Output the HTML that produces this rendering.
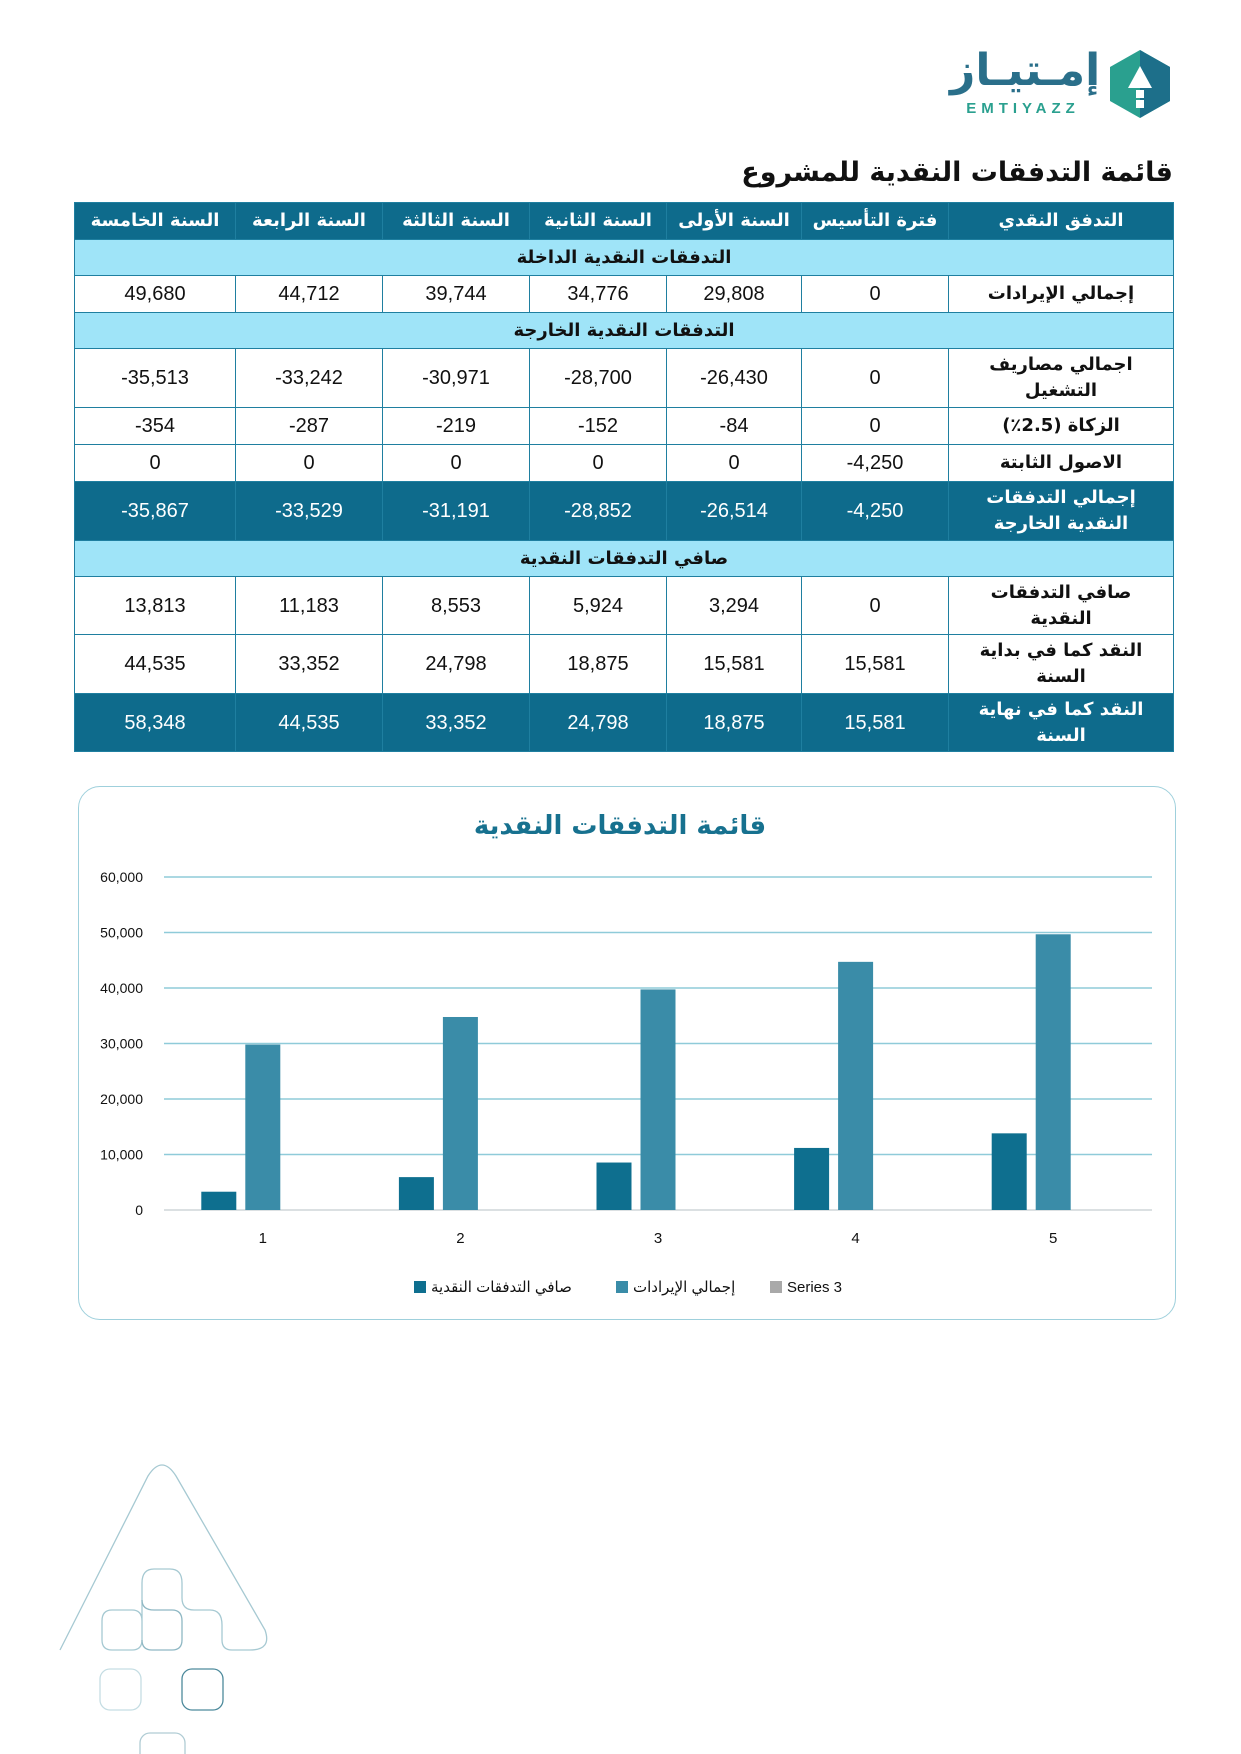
<!DOCTYPE html>
<html lang="ar"><head><meta charset="utf-8">
<style>
*{margin:0;padding:0;box-sizing:border-box}
body{width:1241px;height:1754px;background:#fff;position:relative;overflow:hidden;font-family:"DejaVu Sans","Liberation Sans",sans-serif}
.abs{position:absolute}
table{position:absolute;left:74px;top:202px;width:1099px;border-collapse:collapse;direction:rtl;table-layout:fixed}
td,th{border:1.5px solid #1f7fa0;text-align:center;font-size:18px;color:#111;padding:0 4px;line-height:26px}
th{background:#0e6b8c;color:#fff;font-weight:bold;height:37px}
.sec td{background:#9fe4f8;font-weight:bold;height:36px}
.num{font-family:"Liberation Sans",sans-serif;font-size:20px;direction:ltr;unicode-bidi:isolate}
.lab{font-weight:bold;font-size:18px}
.dark td{background:#0e6b8c;color:#fff}
</style></head><body>
<svg class="abs" style="left:1108px;top:48px" width="64" height="72">
<polygon points="32,2 62,19 62,53 32,70 2,53 2,19" fill="#2aa08f"/>
<polygon points="32,2 62,19 62,53 32,70" fill="#1d6f8a"/>
<polygon points="32,18 44,40 20,40" fill="#fff"/>
<rect x="28" y="42" width="8" height="8" fill="#fff"/><rect x="28" y="52" width="8" height="8" fill="#fff"/>
</svg>
<div class="abs" style="left:950px;top:44px;width:140px;text-align:center;font-size:44px;font-weight:bold;color:#2a6f8a;line-height:54px">إمـتيـاز</div>
<div class="abs" style="left:956px;top:100px;width:134px;text-align:center;font-family:'Liberation Sans',sans-serif;font-size:15px;font-weight:bold;letter-spacing:5px;color:#2aa08f">EMTIYAZZ</div>
<div class="abs" style="right:68px;top:157px;font-size:27px;font-weight:bold;color:#111;direction:rtl">قائمة التدفقات النقدية للمشروع</div>

<table>
<colgroup><col style="width:225px"><col style="width:147px"><col style="width:135px"><col style="width:137px"><col style="width:147px"><col style="width:147px"><col style="width:161px"></colgroup>
<tr><th>التدفق النقدي</th><th>فترة التأسيس</th><th>السنة الأولى</th><th>السنة الثانية</th><th>السنة الثالثة</th><th>السنة الرابعة</th><th>السنة الخامسة</th></tr>
<tr class="sec"><td colspan="7">التدفقات النقدية الداخلة</td></tr>
<tr style="height:37px"><td class="lab">إجمالي الإيرادات</td><td class="num">0</td><td class="num">29,808</td><td class="num">34,776</td><td class="num">39,744</td><td class="num">44,712</td><td class="num">49,680</td></tr>
<tr class="sec"><td colspan="7">التدفقات النقدية الخارجة</td></tr>
<tr style="height:59px"><td class="lab">اجمالي مصاريف<br>التشغيل</td><td class="num">0</td><td class="num">-26,430</td><td class="num">-28,700</td><td class="num">-30,971</td><td class="num">-33,242</td><td class="num">-35,513</td></tr>
<tr style="height:37px"><td class="lab">الزكاة (2.5٪)</td><td class="num">0</td><td class="num">-84</td><td class="num">-152</td><td class="num">-219</td><td class="num">-287</td><td class="num">-354</td></tr>
<tr style="height:37px"><td class="lab">الاصول الثابتة</td><td class="num">-4,250</td><td class="num">0</td><td class="num">0</td><td class="num">0</td><td class="num">0</td><td class="num">0</td></tr>
<tr class="dark" style="height:59px"><td class="lab">إجمالي التدفقات<br>النقدية الخارجة</td><td class="num">-4,250</td><td class="num">-26,514</td><td class="num">-28,852</td><td class="num">-31,191</td><td class="num">-33,529</td><td class="num">-35,867</td></tr>
<tr class="sec"><td colspan="7">صافي التدفقات النقدية</td></tr>
<tr style="height:58px"><td class="lab">صافي التدفقات<br>النقدية</td><td class="num">0</td><td class="num">3,294</td><td class="num">5,924</td><td class="num">8,553</td><td class="num">11,183</td><td class="num">13,813</td></tr>
<tr style="height:59px"><td class="lab">النقد كما في بداية<br>السنة</td><td class="num">15,581</td><td class="num">15,581</td><td class="num">18,875</td><td class="num">24,798</td><td class="num">33,352</td><td class="num">44,535</td></tr>
<tr class="dark" style="height:58px"><td class="lab">النقد كما في نهاية<br>السنة</td><td class="num">15,581</td><td class="num">18,875</td><td class="num">24,798</td><td class="num">33,352</td><td class="num">44,535</td><td class="num">58,348</td></tr>
</table>

<div class="abs" style="left:78px;top:786px;width:1098px;height:534px;border:1.5px solid #9fd0dc;border-radius:22px"></div>
<svg id="chart" class="abs" style="left:0;top:0" width="1241" height="1754"></svg>

<svg class="abs" style="left:0;top:1440px" width="320" height="314" fill="none" stroke="#8fb8c4" stroke-width="1.3">
<path d="M60,210 L148,36 Q162,14 176,36 L265,190 Q272,210 250,210 L232,210 Q222,210 222,200 L222,185 Q222,170 210,170 L194,170 Q182,170 182,158 L182,143 Q182,129 170,129 L154,129 Q142,129 142,143 L142,200 Q142,210 132,210 L112,210 Q102,210 102,200 L102,181 Q102,170 112,170 L132,170 Q142,170 142,181" stroke="#a6c9d2"/>
<path d="M142,160 Q142,170 154,170 L172,170 Q182,170 182,181 L182,200 Q182,210 172,210 L152,210 Q142,210 142,200"/>
<rect x="100" y="229" width="41" height="41" rx="10" stroke="#c5dde3"/>
<rect x="182" y="229" width="41" height="41" rx="10" stroke="#4d8a9c"/>
<rect x="140" y="293" width="45" height="40" rx="10" stroke="#b0ccd4"/>
</svg>

<script>
const categories=["1","2","3","4","5"];
const netCash=[3294,5924,8553,11183,13813];
const revenue=[29808,34776,39744,44712,49680];
const series3=[0,0,0,0,0];
const yTicks=[0,10000,20000,30000,40000,50000,60000];
const seriesNames=["صافي التدفقات النقدية","إجمالي الإيرادات","Series 3"];
const svg=document.getElementById('chart');
const NS='http://www.w3.org/2000/svg';
const L=164,R=1152,T=877,B=1210,YMAX=60000;
const y=v=>B-(v/YMAX)*(B-T);
const cw=(R-L)/categories.length;
const bw=35,gap=9;
function mk(tag,attrs){const e=document.createElementNS(NS,tag);for(const k in attrs)e.setAttribute(k,attrs[k]);svg.appendChild(e);return e;}
let t=mk('text',{x:620,y:834,'text-anchor':'middle','font-size':26,'font-weight':'bold',fill:'#17718f','font-family':'DejaVu Sans,sans-serif'});
t.textContent="قائمة التدفقات النقدية";


yTicks.forEach(v=>{
  const g=mk('line',{x1:L,x2:R,y1:y(v),y2:y(v),stroke:v===0?'#cfd6d8':'#8fcbd9','stroke-width':1.5});
  
  
  const lb=mk('text',{x:143,y:y(v)+5,'text-anchor':'end','font-size':14,fill:'#111','font-family':'Liberation Sans,sans-serif'});
  lb.textContent=v.toLocaleString('en-US');
  
  
});
const series=[netCash,revenue,series3];
const colors=['#0e6f8f','#3a8ca8','#a9a9a9'];
categories.forEach((c,i)=>{
  const x0=L+i*cw+(cw-(3*bw+2*gap))/2;
  series.forEach((s,j)=>{
    const r=mk('rect',{x:x0+j*(bw+gap),y:y(s[i]),width:bw,height:Math.max(0,B-y(s[i])),fill:colors[j]});
    
    
  });
  const xl=mk('text',{x:L+i*cw+cw/2,y:1243,'text-anchor':'middle','font-size':15,fill:'#111','font-family':'Liberation Sans,sans-serif'});
  xl.textContent=c;
  
  
});
const legX=[414,616,770];
seriesNames.forEach((n,j)=>{
  const sq=mk('rect',{x:legX[j],y:1281,width:12,height:12,fill:colors[j]});
  
  
  const lt=mk('text',{x:legX[j]+17,y:1292,'font-size':15,fill:'#111','font-family':'Liberation Sans,DejaVu Sans,sans-serif'});
  lt.textContent=n;
  
  
});
</script>
</body></html>
